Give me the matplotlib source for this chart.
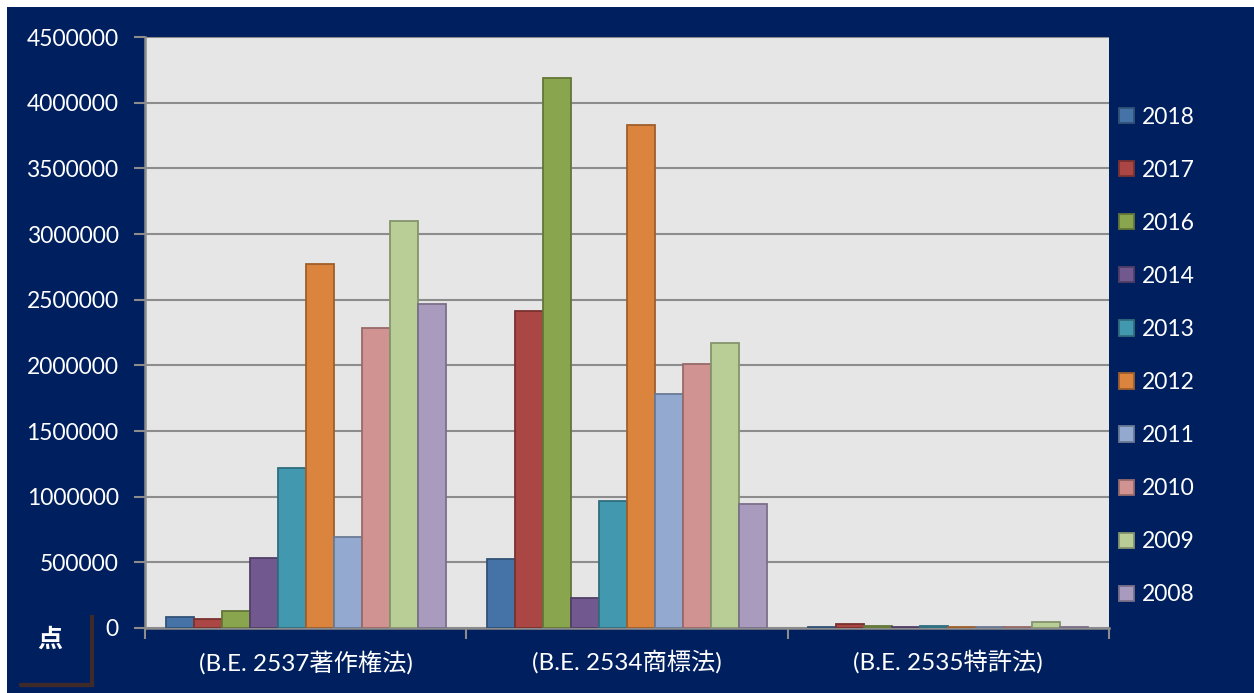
import numpy as np
import matplotlib.pyplot as plt
from matplotlib.patches import Rectangle
from matplotlib.lines import Line2D
from matplotlib.colors import to_rgb

# categories / series
categorias = ['(B.E. 2537著作権法)', '(B.E. 2534商標法)', '(B.E. 2535特許法)']
anos = ['2018', '2017', '2016', '2014', '2013', '2012', '2011', '2010', '2009', '2008']

valores = {
    '2018': [85000, 525000, 8000],
    '2017': [70000, 2414000, 28000],
    '2016': [130000, 4189000, 15000],
    '2014': [530000, 228000, 6000],
    '2013': [1218000, 970000, 15000],
    '2012': [2772000, 3831000, 8000],
    '2011': [690000, 1780000, 5000],
    '2010': [2288000, 2010000, 5000],
    '2009': [3100000, 2170000, 48000],
    '2008': [2468000, 944000, 5000],
}

cores = ['#4572A7', '#AA4643', '#89A54E', '#71588F', '#4198AF',
         '#DB843D', '#93A9CF', '#D19392', '#B9CD96', '#A99BBD']

navy = '#001F5F'
fonte = ['Lato', 'Noto Sans CJK JP', 'DejaVu Sans']
plt.rcParams['font.family'] = fonte


def escurecer(c, f=0.72):
    r, g, b = to_rgb(c)
    return (r * f, g * f, b * f)


fig = plt.figure(figsize=(12.54, 6.93), dpi=100, facecolor='white')
fundo = Rectangle((7 / 1254, 0), 1, 1 - 7 / 693, transform=fig.transFigure,
                  facecolor=navy, edgecolor='none', zorder=-10)
fig.patches.append(fundo)

ax = fig.add_axes([145 / 1254, (693 - 628) / 693, (1109 - 145) / 1254, (628 - 37) / 693])
ax.set_facecolor('#E6E6E6')

n = len(anos)
larg = 0.872 / n
x = np.arange(len(categorias))
for i, ano in enumerate(anos):
    pos = x - 0.436 + larg * (i + 0.5)
    ax.bar(pos, valores[ano], width=larg, color=cores[i],
           edgecolor=escurecer(cores[i]), linewidth=1.3, label=ano, zorder=3)

ax.set_xlim(-0.5, 2.5)
ax.set_ylim(0, 4500000)
ax.set_yticks(np.arange(0, 4500001, 500000))
ax.set_yticklabels([str(v) for v in range(0, 4500001, 500000)])
ax.yaxis.grid(True, color='#8C8C8C', linewidth=1.5, zorder=1)
ax.set_axisbelow(True)

ax.set_xticks([-0.5, 0.5, 1.5, 2.5], minor=False)
ax.set_xticklabels([])
ax.set_xticks(x, minor=True)
ax.set_xticklabels(categorias, minor=True)
ax.tick_params(axis='x', which='major', length=8, width=1.5, color='#8C8C8C', direction='out')
ax.tick_params(axis='x', which='minor', length=0, pad=16, labelsize=17.5, labelcolor='white')
ax.tick_params(axis='y', length=8, width=1.5, color='#8C8C8C', direction='out',
               pad=11, labelsize=16.5, labelcolor='white')

for s in ['top', 'right']:
    ax.spines[s].set_visible(False)
for s in ['left', 'bottom']:
    ax.spines[s].set_color('#8C8C8C')
    ax.spines[s].set_linewidth(1.8)

leg = ax.legend(loc='center left', bbox_to_anchor=(1119 / 1254, 1 - 356 / 693),
                bbox_transform=fig.transFigure, frameon=False, fontsize=16.5,
                labelcolor='white', handlelength=0.65, handleheight=0.65,
                handletextpad=0.35, labelspacing=1.40, borderaxespad=0, borderpad=0)

# unit label with bracket
fig.text(50 / 1254, 1 - 640 / 693, '点', color='white', fontsize=18, fontweight='bold',
         ha='center', va='center', family=['Noto Sans CJK JP'])
fig.add_artist(Line2D([92 / 1254, 92 / 1254, 21 / 1254, 92 / 1254],
                      [1 - 617 / 693, 1 - 685 / 693, 1 - 685 / 693, 1 - 685 / 693],
                      transform=fig.transFigure, color='#3F2A2A', linewidth=3))

fig.savefig('out.png', dpi=100, facecolor=fig.get_facecolor())
